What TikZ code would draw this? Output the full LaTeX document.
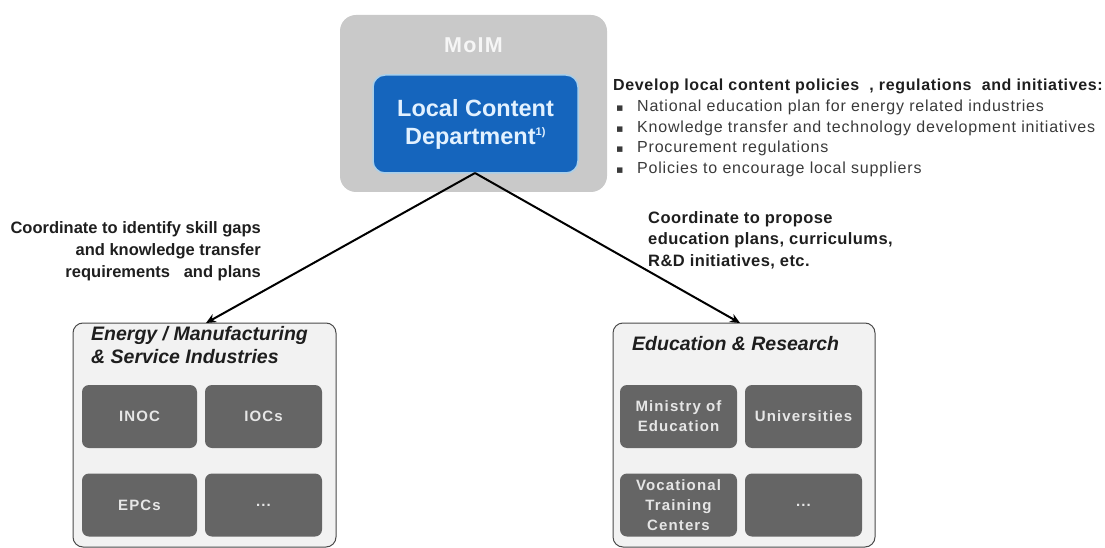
\documentclass[tikz,border=0pt]{standalone}
\usepackage{fontspec}
\setmainfont{Liberation Sans}
\newfontfamily\symfont{DejaVu Sans}
\newfontfamily\widePol[LetterSpace=4]{Liberation Sans}
\newfontfamily\wideBul[LetterSpace=5]{Liberation Sans}
\newfontfamily\wideLab[LetterSpace=2.5]{Liberation Sans}
\newfontfamily\wideBox[LetterSpace=7.5]{Liberation Sans}
\newfontfamily\wideMo[LetterSpace=6]{Liberation Sans}
\usetikzlibrary{arrows.meta}
\definecolor{moimgray}{HTML}{C9C9C9}
\definecolor{lcblue}{HTML}{1565BD}
\definecolor{lcborder}{HTML}{A9CFEA}
\definecolor{lctext}{HTML}{E2F1FF}
\definecolor{outerfill}{HTML}{F2F2F2}
\definecolor{outerline}{HTML}{4A4A4A}
\definecolor{innerfill}{HTML}{656565}
\definecolor{innertext}{HTML}{E6E6E6}
\definecolor{labeltext}{HTML}{1E1E1E}
\definecolor{bullettext}{HTML}{3A3A3A}
\tikzset{
  moimbox/.style={fill=moimgray, draw=none, rounded corners=16pt, inner sep=0pt},
  lcbox/.style={fill=lcblue, draw=lcborder, line width=1.5pt, rounded corners=12pt, inner sep=0pt,
     text=lctext, font=\fontsize{23.5}{28}\selectfont\bfseries, align=center},
  outerbox/.style={fill=outerfill, draw=outerline, line width=1pt, rounded corners=10pt, inner sep=0pt},
  innerbox/.style={fill=innerfill, draw=none, rounded corners=7pt, inner sep=0pt,
     text=innertext, font=\wideBox\fontsize{15}{20}\selectfont\bfseries, align=center,
     minimum height=63pt},
  titletext/.style={text=labeltext, font=\fontsize{19.5}{23}\selectfont\bfseries\itshape, align=left, anchor=west, inner sep=0pt},
  coordlabel/.style={text=labeltext, inner sep=0pt},
  conn/.style={draw=black, line width=2pt, -{Stealth[length=10pt,width=9pt]}}
}
\begin{document}
\begin{tikzpicture}[x=1pt,y=-1pt]
\useasboundingbox (0,0) rectangle (1105,548);
% MoIM
\node[moimbox, minimum width=267pt, minimum height=177pt] (moim) at (473.5,103.5) {};
\node[text=white!93!gray, font=\wideMo\fontsize{21.5}{22}\selectfont\bfseries, inner sep=0pt] (moimlabel) at (473.5,45) {MoIM};
\node[lcbox, minimum width=205pt, minimum height=98pt] (lc) at (475.5,124) {Local Content\\Department\textsuperscript{\fontsize{11}{11}\selectfont 1)}};
% policies text
\node[anchor=west, inner sep=0pt, text=labeltext, font=\widePol\fontsize{16}{18}\selectfont\bfseries] (pol) at (613,86) {Develop local content policies\ \ , regulations\ \ and initiatives:};
\node[anchor=north west, inner sep=0pt, text=bullettext, align=left, font=\wideBul\fontsize{16}{20.5}\selectfont] (bul) at (616,100)
{\makebox[21pt][l]{\symfont\fontsize{11}{11}\selectfont ▪}National education plan for energy related\ industries\\
\makebox[21pt][l]{\symfont\fontsize{11}{11}\selectfont ▪}Knowledge transfer and technology development initiatives\\
\makebox[21pt][l]{\symfont\fontsize{11}{11}\selectfont ▪}Procurement\ regulations\\
\makebox[21pt][l]{\symfont\fontsize{11}{11}\selectfont ▪}Policies to encourage\ local suppliers};
% outer boxes
\node[outerbox, minimum width=263pt, minimum height=224pt] (ind) at (204.5,435) {};
\node[outerbox, minimum width=262pt, minimum height=224pt] (edu) at (744,435) {};
\node[titletext] (indtitle) at (91,345) {Energy / Manufacturing\\\& Service Industries};
\node[titletext] (edutitle) at (632,344) {Education \& Research};
% inner boxes left
\node[innerbox, minimum width=115pt] (inoc) at (139.5,416.5) {INOC};
\node[innerbox, minimum width=117pt] (iocs) at (263.5,416.5) {IOCs};
\node[innerbox, minimum width=115pt] (epcs) at (139.5,505) {EPCs};
\node[innerbox, minimum width=117pt] (dotsl) at (263.5,505) {...};
% inner boxes right
\node[innerbox, minimum width=117pt] (moe) at (678.5,416.5) {Ministry of\\Education};
\node[innerbox, minimum width=117pt] (uni) at (803.5,416.5) {Universities};
\node[innerbox, minimum width=117pt] (voc) at (678.5,505) {Vocational\\Training\\Centers};
\node[innerbox, minimum width=117pt] (dotsr) at (803.5,505) {...};
% connectors
\coordinate (apex) at (475,173);
\coordinate (lefttip) at (206,323);
\coordinate (righttip) at (740,323);
\draw[conn] (apex) -- (lefttip);
\draw[conn] (apex) -- (righttip);
% labels
\node[coordlabel, align=right, anchor=north east, font=\fontsize{16.5}{22}\selectfont\bfseries] (llab) at (261,221) {Coordinate to identify\ skill gaps\\and knowledge transfer\\requirements\ \ \ and plans};
\node[coordlabel, align=left, anchor=north west, font=\wideLab\fontsize{16.5}{21.5}\selectfont\bfseries] (rlab) at (648,211) {Coordinate to propose\\education plans, curriculums,\\R\&D initiatives, etc.};
\end{tikzpicture}
\end{document}
